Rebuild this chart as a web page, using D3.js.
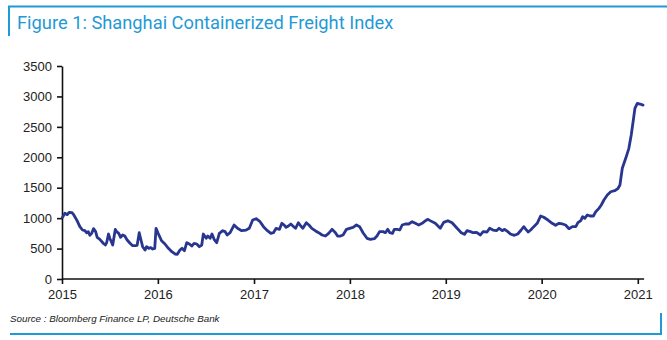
<!DOCTYPE html>
<html>
<head>
<meta charset="utf-8">
<script src="https://cdn.jsdelivr.net/npm/d3@7"></script>
<style>
  html, body { margin: 0; padding: 0; background: #fff; }
  svg { display: block; }
</style>
</head>
<body>
<svg id="chart" width="667" height="340"></svg>
<script>
const title = "Figure 1: Shanghai Containerized Freight Index";
const source = "Source : Bloomberg Finance LP, Deutsche Bank";

const yTicks = [0, 500, 1000, 1500, 2000, 2500, 3000, 3500];
const xTickLabels = ["2015", "2016", "2017", "2018", "2019", "2020", "2021"];

const dates = [
  "2015-01-03","2015-01-12","2015-01-21","2015-01-28","2015-02-08","2015-02-15","2015-02-26","2015-03-10",
  "2015-03-20","2015-03-29","2015-04-05","2015-04-11","2015-04-17","2015-04-24","2015-05-01","2015-05-09",
  "2015-05-15","2015-05-25","2015-06-07","2015-06-15","2015-06-20","2015-06-27","2015-07-02","2015-07-13",
  "2015-07-23","2015-07-28","2015-08-05","2015-08-12","2015-08-20","2015-08-28","2015-09-06","2015-09-17",
  "2015-09-27","2015-10-06","2015-10-14","2015-10-22","2015-10-27","2015-11-04","2015-11-13","2015-11-19",
  "2015-11-27","2015-12-05","2015-12-12","2015-12-20","2015-12-25",
  "2016-01-02","2016-01-15","2016-01-28","2016-02-10","2016-02-23","2016-03-06","2016-03-15","2016-03-25",
  "2016-04-02","2016-04-11","2016-04-20","2016-04-30","2016-05-09","2016-05-18","2016-05-28","2016-06-07",
  "2016-06-16","2016-06-22","2016-07-03","2016-07-09","2016-07-18","2016-07-25","2016-08-02","2016-08-12",
  "2016-08-22","2016-09-04","2016-09-13","2016-09-21","2016-10-02","2016-10-17","2016-10-30","2016-11-15",
  "2016-12-02","2016-12-14","2016-12-27",
  "2017-01-09","2017-01-24","2017-02-06","2017-02-21","2017-03-06","2017-03-16","2017-03-26","2017-04-08",
  "2017-04-17","2017-04-26","2017-05-03","2017-05-12","2017-05-21","2017-06-01","2017-06-08","2017-06-19",
  "2017-06-28","2017-07-06","2017-07-19","2017-07-29","2017-08-09","2017-08-22","2017-09-04","2017-09-17",
  "2017-09-30","2017-10-12","2017-10-25","2017-11-07","2017-11-15","2017-11-26","2017-12-06","2017-12-19",
  "2017-12-31",
  "2018-01-13","2018-01-26","2018-02-07","2018-02-20","2018-03-07","2018-03-20","2018-04-04","2018-04-14",
  "2018-04-24","2018-05-07","2018-05-16","2018-05-25","2018-06-02","2018-06-12","2018-06-19","2018-06-30",
  "2018-07-10","2018-07-19","2018-07-31","2018-08-13","2018-08-26","2018-09-07","2018-09-20","2018-10-03",
  "2018-10-16","2018-10-24","2018-11-04","2018-11-22","2018-12-11","2018-12-24",
  "2019-01-09","2019-01-25","2019-02-13","2019-03-01","2019-03-13","2019-03-23","2019-04-05","2019-04-15",
  "2019-04-28","2019-05-13","2019-05-23","2019-06-07","2019-06-17","2019-06-30","2019-07-13","2019-07-23",
  "2019-08-04","2019-08-13","2019-08-25","2019-09-04","2019-09-19","2019-10-02","2019-10-15","2019-10-25",
  "2019-11-02","2019-11-11","2019-11-20","2019-12-02","2019-12-15","2019-12-28",
  "2020-01-09","2020-01-25","2020-02-10","2020-02-23","2020-03-07","2020-03-20","2020-04-01","2020-04-14",
  "2020-04-27","2020-05-10","2020-05-18","2020-05-29","2020-06-05","2020-06-13","2020-06-23","2020-07-03",
  "2020-07-16","2020-07-25","2020-08-06","2020-08-15","2020-08-25","2020-09-07","2020-09-20","2020-10-05",
  "2020-10-17","2020-10-25","2020-11-03","2020-11-16","2020-11-28","2020-12-07","2020-12-15","2020-12-21",
  "2020-12-30",
  "2021-01-10","2021-01-21"
];

const values = [
  1014,1079,1057,1095,1090,1052,970,860,
  805,795,760,778,718,750,827,778,
  685,652,587,558,597,739,669,558,
  816,778,750,685,723,706,641,587,
  547,547,553,760,669,531,476,531,
  504,514,493,504,833,
  750,629,575,504,449,411,406,476,
  504,465,597,575,542,586,575,531,
  558,739,669,706,669,739,652,597,
  750,794,778,723,761,887,833,794,
  805,833,969,
  991,942,860,794,750,761,833,816,
  915,887,849,871,904,860,833,925,
  871,833,925,887,833,794,761,723,
  706,750,816,761,706,706,723,816,
  833,
  849,887,860,761,669,652,662,706,
  778,778,761,816,761,750,816,816,
  805,887,904,904,942,915,887,915,
  958,980,955,915,833,930,
  958,925,833,761,734,794,778,761,
  767,723,778,772,833,805,794,833,
  794,816,778,739,718,739,805,860,
  816,772,805,860,915,1035,
  1014,969,915,882,915,904,887,827,
  860,860,925,958,1024,997,1052,1035,
  1035,1106,1161,1216,1298,1380,1434,1451,
  1484,1544,1819,1983,2147,2366,2612,2804,
  2886,
  2875,2858
];

const parse = d3.timeParse("%Y-%m-%d");
const data = dates.map((d, i) => ({ date: parse(d), value: values[i] }));

const svg = d3.select("#chart");
const frameColor = "#1f9ad6";

// frame decorations
svg.append("line").attr("x1", 8).attr("x2", 667).attr("y1", 6.5).attr("y2", 6.5)
  .attr("stroke", frameColor).attr("stroke-width", 2);
svg.append("line").attr("x1", 9).attr("x2", 9).attr("y1", 6).attr("y2", 36)
  .attr("stroke", frameColor).attr("stroke-width", 2);
svg.append("line").attr("x1", 10).attr("x2", 662).attr("y1", 334).attr("y2", 334)
  .attr("stroke", frameColor).attr("stroke-width", 2);
svg.append("line").attr("x1", 661).attr("x2", 661).attr("y1", 313).attr("y2", 335)
  .attr("stroke", frameColor).attr("stroke-width", 2);

svg.append("text").attr("x", 17).attr("y", 29)
  .attr("font-family", "Roboto, 'Liberation Sans', Arial, sans-serif")
  .attr("font-size", 18.3).attr("fill", "#1f9ad6")
  .text(title);

svg.append("text").attr("x", 10).attr("y", 322)
  .attr("font-family", "'Liberation Sans', Arial, sans-serif")
  .attr("font-size", 9.8).attr("font-style", "italic").attr("fill", "#222")
  .text(source);

const x0 = 62, x1 = 637.8, yTop = 66, yBot = 279;
const x = d3.scaleTime()
  .domain([parse("2015-01-01"), parse("2021-01-01")])
  .range([x0, x1]);
const y = d3.scaleLinear().domain([0, 3500]).range([yBot, yTop]);

const xTickDates = xTickLabels.map(s => parse(s + "-01-01"));
const extendedMax = parse("2021-01-25");

// axes
const gx = svg.append("g").attr("transform", `translate(0,${yBot})`)
  .call(d3.axisBottom(x).tickValues(xTickDates).tickFormat((d, i) => xTickLabels[i])
    .tickSize(5).tickSizeOuter(0));
gx.select(".domain").attr("d", `M${x0},0H${x(extendedMax)}`).attr("stroke", "#111").attr("stroke-width", 1.6);
gx.selectAll(".tick line").attr("stroke", "#111").attr("stroke-width", 1.6);
gx.selectAll(".tick text").attr("font-family", "'Liberation Sans', Arial, sans-serif")
  .attr("font-size", 13).attr("fill", "#222").attr("dy", "0.95em");

const gy = svg.append("g").attr("transform", `translate(${x0},0)`)
  .call(d3.axisLeft(y).tickValues(yTicks).tickFormat(d3.format("d")).tickSize(5).tickSizeOuter(0));
gy.select(".domain").attr("stroke", "#111").attr("stroke-width", 1.6);
gy.selectAll(".tick line").attr("stroke", "#111").attr("stroke-width", 1.6);
gy.selectAll(".tick text").attr("font-family", "'Liberation Sans', Arial, sans-serif")
  .attr("font-size", 13).attr("fill", "#222").attr("x", -10);

// series
const line = d3.line().x(d => x(d.date)).y(d => y(d.value)).curve(d3.curveLinear);
svg.append("path").datum(data)
  .attr("d", line)
  .attr("fill", "none")
  .attr("stroke", "#28368f")
  .attr("stroke-width", 2.8)
  .attr("stroke-linejoin", "round")
  .attr("stroke-linecap", "round");
</script>
</body>
</html>
